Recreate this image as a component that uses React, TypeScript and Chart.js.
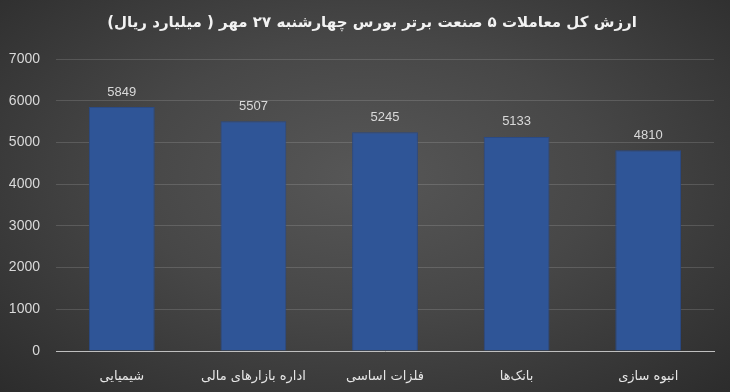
import React, { useEffect, useRef } from "react";
import { Chart, registerables } from "chart.js";

Chart.register(...registerables);

const titleText = "ارزش کل معاملات ۵ صنعت برتر بورس چهارشنبه ۲۷ مهر ( میلیارد ریال)";
const categories = ["شیمیایی", "اداره بازارهای مالی", "فلزات اساسی", "بانک‌ها", "انبوه سازی"];
const values = [5849, 5507, 5245, 5133, 4810];
const yTicks = [0, 1000, 2000, 3000, 4000, 5000, 6000, 7000];

const labelPlugin = {
  id: "valueLabels",
  afterDatasetsDraw(chart: any) {
    const ctx = chart.ctx;
    const meta = chart.getDatasetMeta(0);
    ctx.save();
    ctx.fillStyle = "#d9d9d9";
    ctx.font = "13px 'Liberation Sans', 'DejaVu Sans', sans-serif";
    ctx.textAlign = "center";
    ctx.textBaseline = "middle";
    meta.data.forEach((bar: any, i: number) => {
      ctx.fillText(String(values[i]), bar.x, bar.y - 15);
    });
    ctx.restore();
  },
};

const titlePlugin = {
  id: "customTitle",
  afterDraw(chart: any) {
    const ctx = chart.ctx;
    ctx.save();
    ctx.fillStyle = "#f2f2f2";
    ctx.font = "bold 15px 'DejaVu Sans', sans-serif";
    ctx.textAlign = "center";
    ctx.textBaseline = "middle";
    ctx.direction = "rtl";
    ctx.fillText(titleText, 372, 23);
    ctx.restore();
  },
};

export default function App() {
  const ref = useRef<HTMLCanvasElement>(null);
  useEffect(() => {
    document.body.style.margin = "0";
    const chart = new Chart(ref.current!, {
      type: "bar",
      data: {
        labels: categories,
        datasets: [
          {
            data: values,
            backgroundColor: "#2f5597",
            borderColor: "#2a4a85",
            borderWidth: 1,
            barPercentage: 0.5,
            categoryPercentage: 1,
          },
        ],
      },
      options: {
        animation: false,
        responsive: false,
        maintainAspectRatio: false,
        layout: { padding: { top: 59, right: 16, left: 0, bottom: 0 } },
        plugins: { legend: { display: false }, tooltip: { enabled: false }, title: { display: false } },
        scales: {
          x: {
            grid: { display: false, drawTicks: false },
            border: { display: true, color: "#bfbfbf", width: 1 },
            ticks: {
              color: "#e6e6e6",
              padding: 18,
              font: { size: 13, family: "'DejaVu Sans', sans-serif" },
            },
            afterFit: (s: any) => {
              s.height = 41;
            },
          },
          y: {
            min: 0,
            max: 7000,
            afterBuildTicks: (s: any) => {
              s.ticks = yTicks.map((v) => ({ value: v }));
            },
            grid: { color: "rgba(255,255,255,0.14)", drawTicks: false },
            border: { display: false },
            ticks: {
              color: "#d9d9d9",
              padding: 16,
              font: { size: 14, family: "'Liberation Sans', sans-serif" },
              callback: (v: any) => String(v),
            },
            afterFit: (s: any) => {
              s.width = 56;
            },
          },
        },
      },
      plugins: [labelPlugin, titlePlugin],
    });
    return () => chart.destroy();
  }, []);
  return (
    <div
      style={{
        width: 730,
        height: 392,
        background: "radial-gradient(ellipse at 50% 45%, #575757 0%, #474747 45%, #2c2c2c 100%)",
      }}
    >
      <canvas ref={ref} width={730} height={392} style={{ display: "block" }} />
    </div>
  );
}
